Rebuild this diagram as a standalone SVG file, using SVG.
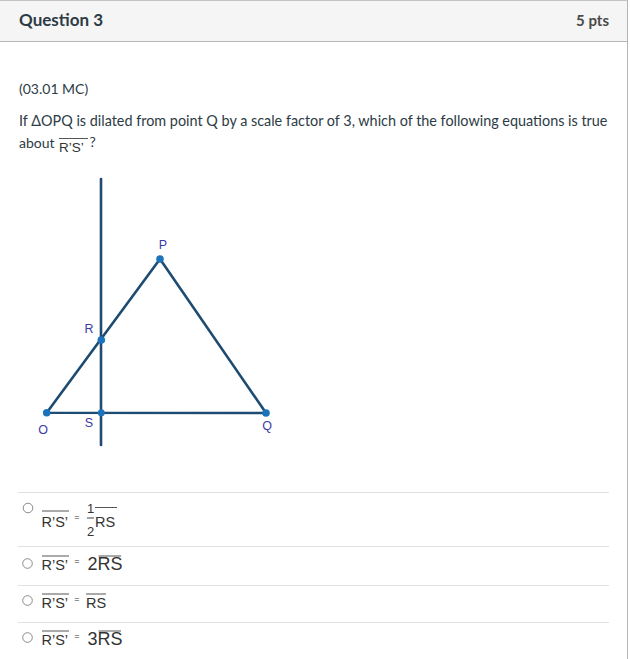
<svg xmlns="http://www.w3.org/2000/svg" width="630" height="659" viewBox="0 0 630 659">
<style>
.hd{font-family:Lato,"Liberation Sans",sans-serif;font-weight:bold;fill:#2d3b45}
.tx{font-family:Lato,"Liberation Sans",sans-serif;font-size:14px;fill:#2d3b45}
.m{font-family:"Liberation Sans",Arial,sans-serif;fill:#333}
.ov{stroke:#555;stroke-width:1}
.sep{stroke:#e0e0e0;stroke-width:1.2}
.rad{fill:#fff;stroke:#8a8a8a;stroke-width:1}
.edge{stroke:#1e4b72;stroke-width:2.6;fill:none;stroke-linecap:round}
.pt{fill:#1b74bb}
.lb{font-family:"Liberation Sans",Arial,sans-serif;font-size:12.5px;fill:#3b3ba6}
</style>
<rect x="0" y="0" width="630" height="659" fill="#fff"/>
<g id="header">
<rect x="0" y="0" width="628" height="41" fill="#f5f5f5"/>
<line x1="0" y1="0.5" x2="628" y2="0.5" stroke="#c4c4c4"/>
<line x1="0" y1="41.5" x2="628" y2="41.5" stroke="#b5b5b5"/>
<line x1="627.5" y1="0" x2="627.5" y2="659" stroke="#b5b5b5"/>
<text class="hd" x="19" y="26" font-size="17">Question 3</text>
<text class="hd" x="609" y="26" font-size="15" text-anchor="end" style="fill:#4a4a4a">5 pts</text>
</g>
<g id="question">
<text class="tx" x="19" y="94">(03.01 MC)</text>
<text class="tx" x="19" y="126" style="font-size:14.4px">If ΔOPQ is dilated from point Q by a scale factor of 3, which of the following equations is true</text>
<text class="tx" x="19" y="148">about</text>
<text class="m" x="59" y="152" font-size="13.5">R’S’</text>
<line class="ov" x1="59" y1="138.5" x2="88" y2="138.5"/>
<text class="tx" x="89.5" y="147">?</text>
</g>
<g id="figure">
<g id="connectors">
<line class="edge" x1="101" y1="179" x2="101" y2="445"/>
<polyline class="edge" points="46.7,412.7 160,259 266,413 46.7,412.7"/>
</g>
<g id="node-P"><circle class="pt" cx="160" cy="259" r="3.8"/><text class="lb" x="163" y="249" text-anchor="middle">P</text></g>
<g id="node-R"><circle class="pt" cx="101.3" cy="340" r="3.8"/><text class="lb" x="89" y="333" text-anchor="middle">R</text></g>
<g id="node-O"><circle class="pt" cx="46.7" cy="412.7" r="3.8"/><text class="lb" x="43" y="434" text-anchor="middle">O</text></g>
<g id="node-S"><circle class="pt" cx="101.3" cy="412.7" r="3.5"/><text class="lb" x="89" y="427" text-anchor="middle">S</text></g>
<g id="node-Q"><circle class="pt" cx="266" cy="413" r="3.8"/><text class="lb" x="267" y="430" text-anchor="middle">Q</text></g>
</g>
<g id="answers">
<line class="sep" x1="18" y1="492.5" x2="609" y2="492.5"/>
<line class="sep" x1="18" y1="546.5" x2="609" y2="546.5"/>
<line class="sep" x1="18" y1="585.5" x2="609" y2="585.5"/>
<line class="sep" x1="18" y1="622.5" x2="609" y2="622.5"/>
<g id="opt1">
<circle class="rad" cx="28" cy="508" r="4.8"/>
<text class="m" x="41.5" y="526.5" font-size="14.5">R’S’</text>
<line class="ov" x1="42" y1="511" x2="69" y2="511"/>
<text class="m" x="77" y="520" font-size="9" text-anchor="middle">=</text>
<text class="m" x="90.5" y="513" font-size="13" text-anchor="middle">1</text>
<line x1="87" y1="518" x2="94" y2="518" stroke="#444" stroke-width="1"/>
<text class="m" x="90.5" y="536" font-size="13" text-anchor="middle">2</text>
<text class="m" x="95" y="526.5" font-size="14.5">RS</text>
<line class="ov" x1="95" y1="507.5" x2="117" y2="507.5"/>
</g>
<g id="opt2">
<circle class="rad" cx="27.5" cy="563.5" r="4.8"/>
<text class="m" x="41.5" y="570" font-size="14.5">R’S’</text>
<line class="ov" x1="42" y1="556" x2="69" y2="556"/>
<text class="m" x="77" y="564" font-size="9" text-anchor="middle">=</text>
<text class="m" x="87.5" y="570" font-size="18">2RS</text>
<line class="ov" x1="98.5" y1="556" x2="121" y2="556"/>
</g>
<g id="opt3">
<circle class="rad" cx="27.5" cy="600.5" r="4.8"/>
<text class="m" x="41.5" y="608" font-size="14.5">R’S’</text>
<line class="ov" x1="42" y1="594" x2="69" y2="594"/>
<text class="m" x="77" y="602" font-size="9" text-anchor="middle">=</text>
<text class="m" x="86" y="608" font-size="14.5">RS</text>
<line class="ov" x1="86" y1="594" x2="106" y2="594"/>
</g>
<g id="opt4">
<circle class="rad" cx="27.5" cy="637.5" r="4.8"/>
<text class="m" x="41.5" y="645" font-size="14.5">R’S’</text>
<line class="ov" x1="42" y1="631" x2="69" y2="631"/>
<text class="m" x="77" y="639" font-size="9" text-anchor="middle">=</text>
<text class="m" x="87.5" y="645" font-size="18">3RS</text>
<line class="ov" x1="98.5" y1="631" x2="121" y2="631"/>
</g>
</g>
</svg>
